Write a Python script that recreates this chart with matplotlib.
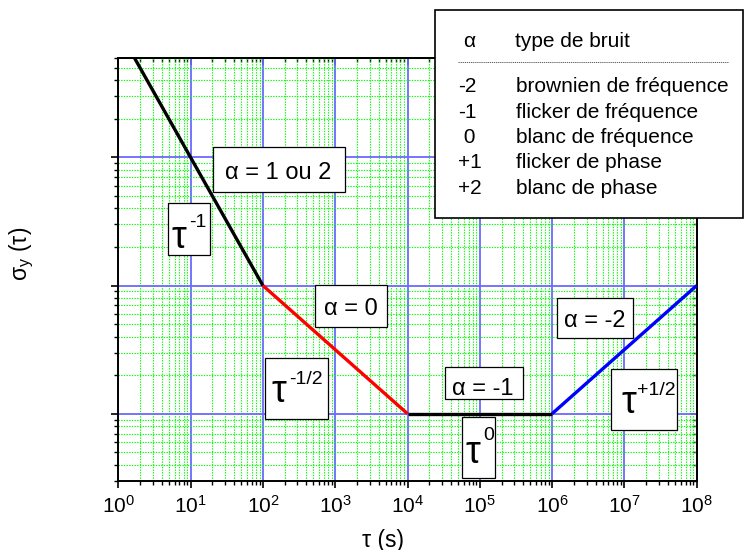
import numpy as np
import matplotlib
matplotlib.use("Agg")
import matplotlib.pyplot as plt
from matplotlib import ticker
from matplotlib.patches import Rectangle

plt.rcParams['font.family'] = ['Liberation Sans', 'DejaVu Sans']
plt.rcParams['mathtext.fontset'] = 'custom'
plt.rcParams['mathtext.rm'] = 'Liberation Sans'
plt.rcParams['mathtext.it'] = 'Liberation Sans:italic'

# data: corner points of the sigma_y(tau) schematic
tau_pts = [1e0, 1e2, 1e4, 1e6, 1e8]
sigma_pts = [1000, 10, 1, 1, 10]
seg_colors = ['black', 'red', 'black', 'blue']

x_lim = (1e0, 1e8)
y_lim = (0.3, 600)

alpha_vals = ['-2', '-1', ' 0', '+1', '+2']
noise_types = ['brownien de fréquence', 'flicker de fréquence', 'blanc de fréquence',
               'flicker de phase', 'blanc de phase']

W, H = 744, 550
fig = plt.figure(figsize=(W / 100, H / 100), dpi=100)
ax = fig.add_axes([118.3 / W, 1 - 480.7 / H, (696.7 - 118.3) / W, (480.7 - 57.7) / H])

for i, c in enumerate(seg_colors):
    ax.plot(tau_pts[i:i + 2], sigma_pts[i:i + 2], color=c, lw=2.4, solid_capstyle='butt', zorder=3)

ax.set_xscale('log')
ax.set_yscale('log')
ax.set_xlim(*x_lim)
ax.set_ylim(*y_lim)
ax.set_axisbelow(True)
ax.xaxis.set_major_locator(ticker.LogLocator(base=10, numticks=20))
ax.xaxis.set_minor_locator(ticker.LogLocator(base=10, subs=np.arange(2, 10), numticks=20))
ax.grid(which='minor', color='#00ff00', lw=0.8, ls=(0, (1.2, 1.2)))
ax.grid(which='major', color='#6a6aff', lw=1.3, ls='-')

ax.xaxis.set_major_formatter(ticker.FuncFormatter(
    lambda v, p: r'$\mathregular{10^{%d}}$' % round(np.log10(v))))
ax.yaxis.set_major_formatter(ticker.NullFormatter())
ax.yaxis.set_minor_formatter(ticker.NullFormatter())
ax.tick_params(axis='x', labelsize=15, pad=5)
ax.tick_params(which='major', direction='out', length=5, width=1.2)
ax.tick_params(which='minor', direction='out', length=3, width=1.0)
for s in ax.spines.values():
    s.set_linewidth(1.4)

secx = ax.secondary_xaxis('top')
secx.xaxis.set_major_locator(ticker.LogLocator(base=10, numticks=20))
secx.xaxis.set_minor_locator(ticker.LogLocator(base=10, subs=np.arange(2, 10), numticks=20))
secx.xaxis.set_major_formatter(ticker.NullFormatter())
secx.xaxis.set_minor_formatter(ticker.NullFormatter())
secy = ax.secondary_yaxis('right')
secy.yaxis.set_major_formatter(ticker.NullFormatter())
secy.yaxis.set_minor_formatter(ticker.NullFormatter())
for sa in (secx, secy):
    sa.tick_params(which='major', direction='in', length=5, width=1.2)
    sa.tick_params(which='minor', direction='in', length=3, width=1.0)
    for s in sa.spines.values():
        s.set_linewidth(1.4)

fig.text(383 / W, 1 - 540 / H, 'τ (s)', fontsize=16.5, ha='center', va='center')
fig.text(22 / W, 1 - 254 / H, r'σ$_\mathrm{y}$ (τ)', fontsize=16.5, ha='center', va='center',
         rotation=90)


def box(x0, y0, x1, y1, lw=0.9):
    fig.add_artist(Rectangle((x0 / W, 1 - y1 / H), (x1 - x0) / W, (y1 - y0) / H,
                             transform=fig.transFigure, facecolor='white',
                             edgecolor='black', lw=lw, zorder=5))


def txt(x, y, s, size, ha='left'):
    fig.text(x / W, 1 - y / H, s, fontsize=size, ha=ha, va='baseline', zorder=6)


# alpha labels
for (x0, y0, x1, y1), (cx, by), s in [
        ((213, 147, 345, 192), (278.5, 179), 'α = 1 ou 2'),
        ((315, 285, 387, 327), (351, 315), 'α = 0'),
        ((445, 367, 523, 399), (483, 395), 'α = -1'),
        ((557, 298, 633, 338), (594.5, 326.7), 'α = -2')]:
    box(x0, y0, x1, y1)
    txt(cx, by, s, 17, ha='center')

# tau power labels
for (x0, y0, x1, y1), (tx, ty), (sx, sy), s in [
        ((168, 203, 210, 255), (172, 248), (189, 227), '-1'),
        ((265, 358, 328, 419), (272, 402), (289, 384), '-1/2'),
        ((462, 417, 495, 478), (466, 463), (483, 440), '0'),
        ((611, 369, 677, 430), (621, 413), (637, 395), '+1/2')]:
    box(x0, y0, x1, y1)
    txt(tx, ty, 'τ', 27)
    txt(sx, sy, s, 14)

# legend table
box(435, 10, 743, 218, lw=1.2)
txt(463, 46.7, 'α', 15)
txt(515, 46.7, 'type de bruit', 15)
fig.add_artist(plt.Line2D([457.7 / W, 727.7 / W], [1 - 61.7 / H, 1 - 61.7 / H],
                          transform=fig.transFigure, color='#444444', lw=0.6,
                          ls=(0, (1.5, 1)), zorder=6))
row_y = [92.3, 117.7, 143.3, 168.5, 194]
for a, t, y in zip(alpha_vals, noise_types, row_y):
    txt(457.7, y, a, 15)
    txt(516, y, t, 15)

fig.savefig('out.png', dpi=100)
